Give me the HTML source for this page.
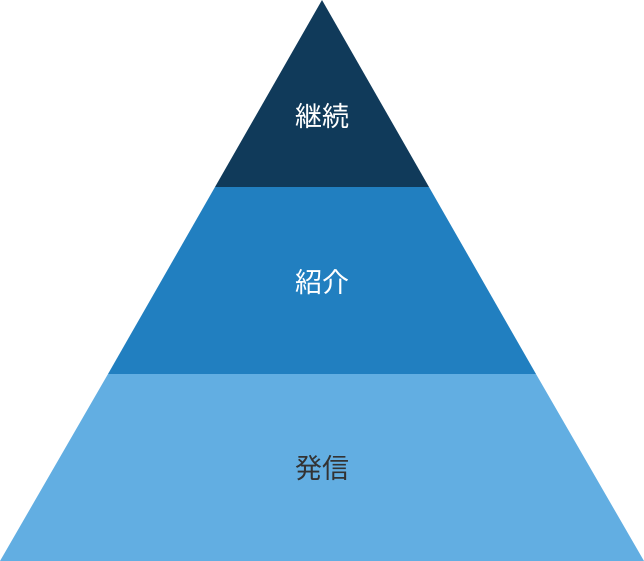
<!DOCTYPE html>
<html><head><meta charset="utf-8"><style>
html,body{margin:0;padding:0;background:#fff;width:644px;height:561px;overflow:hidden}
svg text{font-family:"Liberation Sans","Noto Sans CJK JP",sans-serif;font-size:27px;text-anchor:middle}
</style></head><body>
<svg width="644" height="561" viewBox="0 0 644 561" xmlns="http://www.w3.org/2000/svg">
<polygon points="322,0 429,187 215,187" fill="#103a5a"/>
<polygon points="215,187 429,187 536,374 108,374" fill="#217fc0"/>
<polygon points="108,374 536,374 644,561 0,561" fill="#62aee2"/>
<text x="322" y="126" fill="#fff">継続</text>
<text x="322" y="292" fill="#fff">紹介</text>
<text x="322" y="478" fill="#333">発信</text>
</svg>
</body></html>
